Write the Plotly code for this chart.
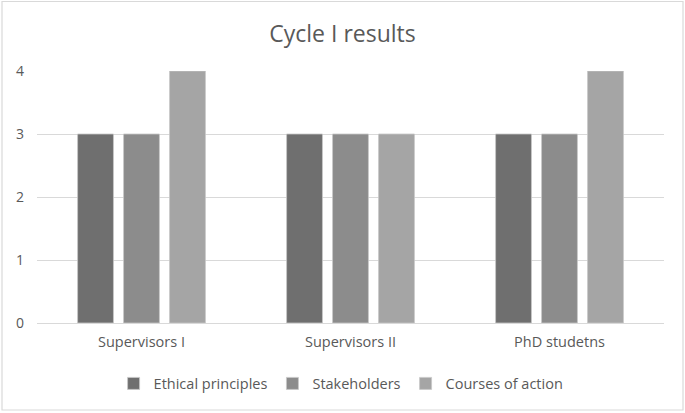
import plotly.graph_objects as go

categories = ["Supervisors I", "Supervisors II", "PhD studetns"]
series_names = ["Ethical principles", "Stakeholders", "Courses of action"]
ethical = [3, 3, 3]
stakeholders = [3, 3, 3]
courses = [4, 3, 4]
colors = ["#6f6f6f", "#8c8c8c", "#a5a5a5"]
y_ticks = [0, 1, 2, 3, 4]

font_family = "Open Sans, Liberation Sans, sans-serif"

fig = go.Figure()
for name, vals, col in zip(series_names, [ethical, stakeholders, courses], colors):
    fig.add_trace(go.Bar(
        x=categories, y=vals, name=name,
        marker=dict(color=col, line=dict(color="#c8c8c8", width=0.8)),
    ))

fig.update_layout(
    width=685, height=413,
    margin=dict(l=37, r=21, t=71, b=90),
    paper_bgcolor="white", plot_bgcolor="white",
    barmode="group", bargap=0.34, bargroupgap=0.22,
    title=dict(text="Cycle I results", x=0.5, xanchor="center", xref="container",
               y=1 - 34 / 413, yanchor="middle", yref="container",
               font=dict(family=font_family, size=23, color="#595959")),
    font=dict(family=font_family, size=14, color="#595959"),
    showlegend=True,
    legend=dict(orientation="h", x=0.485, xanchor="center", y=-0.24, yanchor="middle",
                font=dict(family=font_family, size=14.5, color="#595959"),
                itemwidth=30, traceorder="normal"),
    xaxis=dict(showgrid=False, showline=True, linecolor="#d9d9d9", linewidth=1,
               ticks="", ticklabelstandoff=6,
               tickfont=dict(family=font_family, size=14.5, color="#595959")),
    yaxis=dict(range=[0, 4], tickvals=y_ticks, showgrid=True, gridcolor="#d9d9d9",
               gridwidth=1, zeroline=False, showline=False, ticks="",
               ticklabelstandoff=12,
               tickfont=dict(family=font_family, size=14, color="#595959")),
    shapes=[dict(type="rect", xref="paper", yref="paper",
                 x0=(2 - 37) / 627, x1=(683 - 37) / 627,
                 y0=(323 - 410) / 252, y1=(323 - 1.5) / 252,
                 line=dict(color="#d9d9d9", width=1.2), layer="below")],
)

fig.write_html("out.html", config={"displayModeBar": False},
               post_script="document.body.style.margin='0';document.body.style.overflow='hidden';")
